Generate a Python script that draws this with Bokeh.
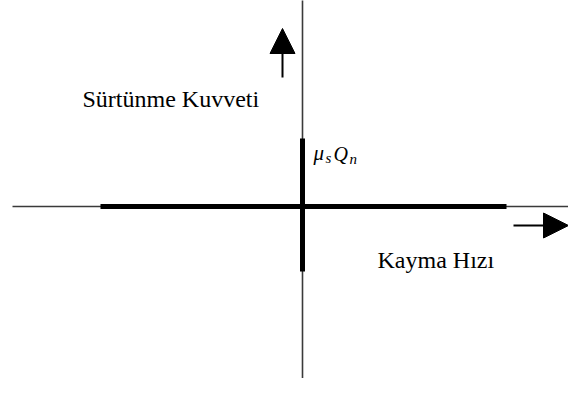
from bokeh.plotting import figure
from bokeh.models import Range1d, Arrow, NormalHead, Label
from bokeh.embed import file_html
from bokeh.resources import INLINE

# Stick-slip (static friction) diagram; origin at the axes' crossing
slip_velocity = [-202, 204]          # thick branch along the slip-velocity axis
static_limit = [-65, 68]             # thick branch at zero velocity: -mu_s Q_n .. +mu_s Q_n
axis_x_extent = [-290, 300]
axis_y_extent = [-200, 220]
x_label = "Kayma Hızı"
y_label = "Sürtünme Kuvveti"

W, H = 568, 378
p = figure(width=W, height=H, output_backend="svg", toolbar_location=None,
           x_range=Range1d(-302, 266), y_range=Range1d(-172, 206),
           min_border=0, outline_line_color=None)
p.axis.visible = False
p.grid.visible = False
p.background_fill_color = "white"

axis_col = "#3a3a3a"
p.line(axis_x_extent, [0, 0], line_color=axis_col, line_width=1.6)
p.line([0, 0], axis_y_extent, line_color=axis_col, line_width=1.6)
p.line(slip_velocity, [0, 0], line_color="black", line_width=5)
p.line([0, 0], static_limit, line_color="black", line_width=5)

p.add_layout(Arrow(end=NormalHead(size=25, fill_color="black", line_color="black"),
                   x_start=-20, y_start=129, x_end=-20, y_end=178,
                   line_width=2, line_color="black"))
p.add_layout(Arrow(end=NormalHead(size=25, fill_color="black", line_color="black"),
                   x_start=211, y_start=-19, x_end=266, y_end=-19,
                   line_width=2, line_color="black"))

font = "'Liberation Serif', 'Times New Roman', serif"
p.add_layout(Label(x=-220, y=108, text=y_label, text_font=font, text_font_size="24px",
                   text_color="black", text_baseline="alphabetic"))
p.add_layout(Label(x=75, y=-53, text=x_label, text_font=font, text_font_size="24px",
                   text_color="black", text_baseline="alphabetic"))
p.add_layout(Label(x=11, y=54, text="μ", text_font=font, text_font_size="21px",
                   text_font_style="italic", text_color="black", text_baseline="alphabetic"))
p.add_layout(Label(x=23, y=49, text="s", text_font=font, text_font_size="15px",
                   text_font_style="italic", text_color="black", text_baseline="alphabetic"))
p.add_layout(Label(x=31, y=53, text="Q", text_font=font, text_font_size="20px",
                   text_font_style="italic", text_color="black", text_baseline="alphabetic"))
p.add_layout(Label(x=47, y=48, text="n", text_font=font, text_font_size="15px",
                   text_font_style="italic", text_color="black", text_baseline="alphabetic"))

open("out.html", "w").write(file_html(p, INLINE))
